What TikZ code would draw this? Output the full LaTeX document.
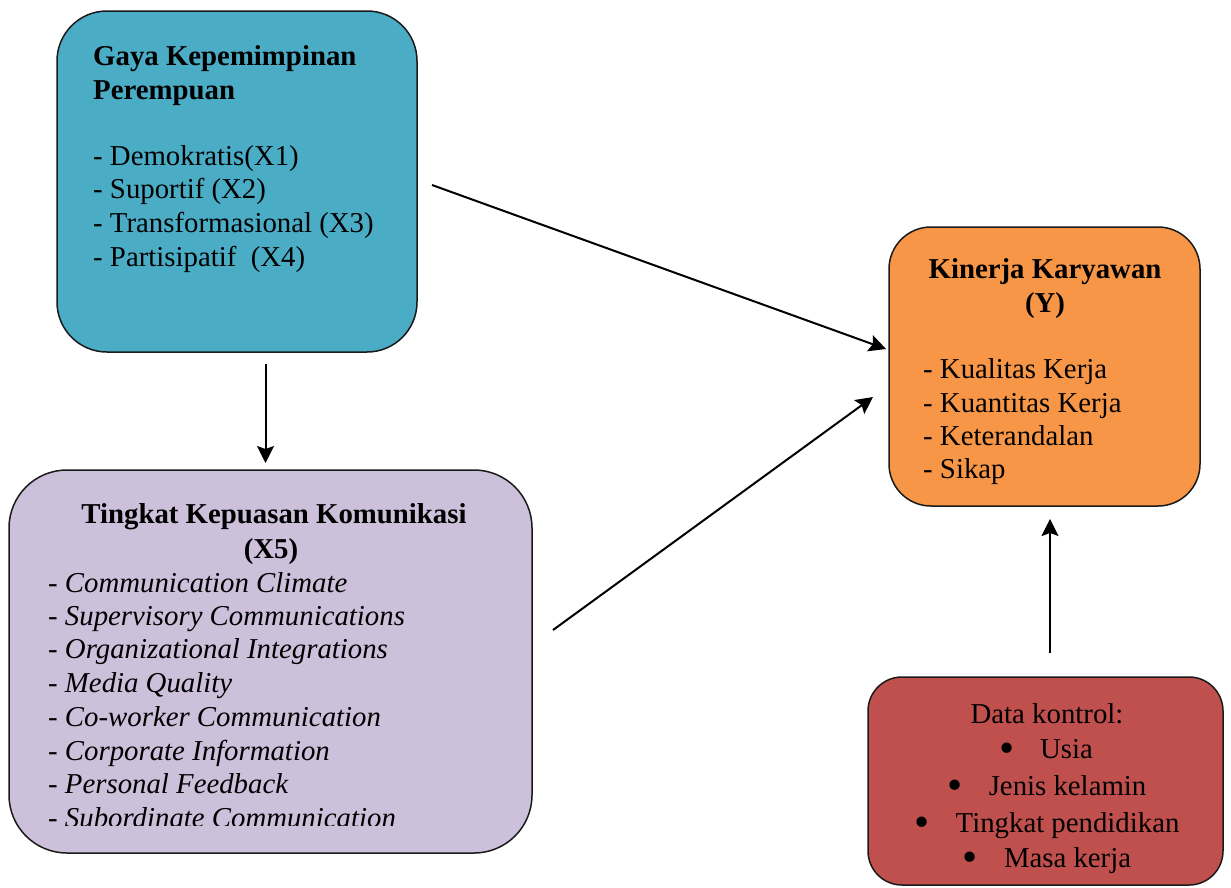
\documentclass[tikz,border=0pt]{standalone}
\usepackage{fontspec}
\usepackage{graphicx}
\setmainfont{Liberation Serif}
\usetikzlibrary{arrows.meta}
\definecolor{leadblue}{HTML}{4BACC6}
\definecolor{perforange}{HTML}{F79646}
\definecolor{commpurple}{HTML}{CCC0DA}
\definecolor{ctrlred}{HTML}{C0504D}
\definecolor{edge}{HTML}{1A1A1A}
\newcommand{\bigdot}{\raisebox{-4pt}{\scalebox{1.5}{\textbullet}}\hspace{26pt}}
\tikzset{
  panel/.style={draw=edge, line width=1.5pt, inner sep=0pt, outer sep=0pt},
  txt/.style={inner sep=0pt, font=\fontsize{28.8pt}{33.6pt}\selectfont, text=black},
  ln/.style={txt, anchor=base west},
  ctr/.style={txt, anchor=base},
  bold/.style={font=\fontsize{28.8pt}{33.6pt}\selectfont\bfseries},
  link/.style={line width=2pt, draw=black,
    -{Stealth[length=17pt,width=17pt,inset=3pt]}}
}
\begin{document}
\begin{tikzpicture}[x=1pt,y=-1pt]
\useasboundingbox (0,0) rectangle (1231,887);

% boxes
\node[panel, fill=leadblue, rounded corners=50pt,
      minimum width=360pt, minimum height=341pt] (lead) at (237,181.5) {};
\node[panel, fill=perforange, rounded corners=42pt,
      minimum width=311pt, minimum height=279pt] (perf) at (1044.5,366.5) {};
\node[panel, fill=commpurple, rounded corners=58pt,
      minimum width=523pt, minimum height=383pt] (comm) at (270.5,661.5) {};
\node[panel, fill=ctrlred, rounded corners=34pt,
      minimum width=355pt, minimum height=208pt] (ctrl) at (1045.5,781) {};

% leadership style
\node[ln, bold] (leadt1) at (93,65) {Gaya Kepemimpinan};
\node[ln, bold] (leadt2) at (93,99) {Perempuan};
\node[ln] (lead1) at (93,165) {- Demokratis(X1)};
\node[ln] (lead2) at (93,198) {- Suportif (X2)};
\node[ln] (lead3) at (93,232) {- Transformasional (X3)};
\node[ln] (lead4) at (93,266) {- Partisipatif~~(X4)};

% employee performance
\node[ctr, bold] (perft1) at (1045,278) {Kinerja Karyawan};
\node[ctr, bold] (perft2) at (1045,312) {(Y)};
\node[ln] (perf1) at (923,378) {- Kualitas Kerja};
\node[ln] (perf2) at (923,412) {- Kuantitas Kerja};
\node[ln] (perf3) at (923,445) {- Keterandalan};
\node[ln] (perf4) at (923,478) {- Sikap};

% communication satisfaction
\node[ctr, bold] (commt1) at (274,523) {Tingkat Kepuasan Komunikasi};
\node[ctr, bold] (commt2) at (271,558) {(X5)};
\node[ln] (comm1) at (48,592) {- \textit{Communication Climate}};
\node[ln] (comm2) at (48,625) {- \textit{Supervisory Communications}};
\node[ln] (comm3) at (48,658) {- \textit{Organizational Integrations}};
\node[ln] (comm4) at (48,692) {- \textit{Media Quality}};
\node[ln] (comm5) at (48,726) {- \textit{Co-worker Communication}};
\node[ln] (comm6) at (48,760) {- \textit{Corporate Information}};
\node[ln] (comm7) at (48,793) {- \textit{Personal Feedback}};
\begin{scope}
  \clip (0,0) rectangle (1231,825);
  \node[ln] (comm8) at (48,827) {- \textit{Subordinate Communication}};
\end{scope}

% control data
\node[ctr] (ctrlt) at (1047,723) {Data kontrol:};
\node[ctr] (ctrl1) at (1046,758) {\bigdot Usia};
\node[ctr] (ctrl2) at (1047,795) {\bigdot Jenis kelamin};
\node[ctr] (ctrl3) at (1047,832) {\bigdot Tingkat pendidikan};
\node[ctr] (ctrl4) at (1047,867) {\bigdot Masa kerja};

% relations
\draw[link] ([xshift=15pt,yshift=-3.5pt]lead.east) -- ([xshift=-3pt,yshift=17.5pt]perf.west);
\draw[link] ([xshift=28.5pt,yshift=-12pt]lead.south) -- ([xshift=-5pt,yshift=7pt]comm.north);
\draw[link] ([xshift=21pt,yshift=31.5pt]comm.east) -- ([xshift=-16pt,yshift=-30.5pt]perf.west);
\draw[link] ([xshift=4.5pt,yshift=24pt]ctrl.north) -- ([xshift=5.5pt,yshift=-13pt]perf.south);
\end{tikzpicture}
\end{document}
